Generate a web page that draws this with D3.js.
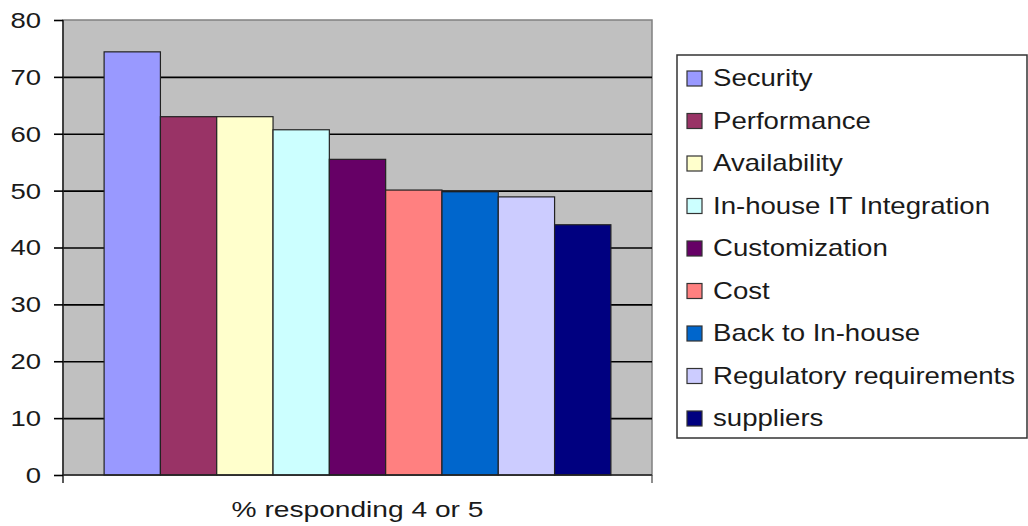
<!DOCTYPE html>
<html>
<head>
<meta charset="utf-8">
<script src="https://cdn.jsdelivr.net/npm/d3@7"></script>
<style>
  body { margin: 0; background: #fff; }
  text { font-family: "Liberation Sans", Arial, sans-serif; fill: #1a1a1a; }
</style>
</head>
<body>
<svg id="chart"></svg>
<script>
// Chart data
const categories = ["Security", "Performance", "Availability", "In-house IT Integration",
    "Customization", "Cost", "Back to In-house", "Regulatory requirements", "suppliers"];
const values = [74.4, 63.0, 63.0, 60.7, 55.5, 50.1, 49.8, 48.9, 44.0];
const colors = ["#9999FF", "#993366", "#FFFFCC", "#CCFFFF", "#660066",
    "#FF8080", "#0066CC", "#CCCCFF", "#000080"];
const yTicks = [0, 10, 20, 30, 40, 50, 60, 70, 80];
const xTitle = "% responding 4 or 5";

// Layout
const config = { width: 1028, height: 526 };
const plot = { left: 63, right: 652, top: 20, bottom: 475 };
const stretch = 1.25; // the source text is a bit wide

function translate(x, y) {
    return 'translate(' + x + ',' + y + ')';
}

const svg = d3.select("#chart")
    .attr("width", config.width)
    .attr("height", config.height);

// Scales
const x = d3.scaleBand()
    .domain(categories)
    .range([plot.left, plot.right])
    .paddingInner(0)
    .paddingOuter(0.73);

const y = d3.scaleLinear()
    .domain([0, 80])
    .range([plot.bottom, plot.top]);

const color = d3.scaleOrdinal().domain(categories).range(colors);

// Plot background
svg.append("rect")
    .attr("x", plot.left)
    .attr("y", plot.top)
    .attr("width", plot.right - plot.left)
    .attr("height", plot.bottom - plot.top)
    .attr("fill", "#C0C0C0")
    .attr("stroke", "#808080")
    .attr("stroke-width", 1.5);

// Gridlines
svg.append("g")
    .attr("transform", translate(plot.left, 0))
    .call(d3.axisLeft(y).tickValues(yTicks.slice(1, -1)).tickSize(-(plot.right - plot.left)).tickFormat(""))
    .call(g => g.select(".domain").remove())
    .call(g => g.selectAll("line").attr("stroke", "#000").attr("stroke-width", 1.6));

// Bars
svg.append("g").selectAll("rect")
    .data(categories)
    .enter()
    .append("rect")
    .attr("x", d => x(d))
    .attr("y", (d, i) => y(values[i]))
    .attr("width", x.bandwidth())
    .attr("height", (d, i) => y(0) - y(values[i]))
    .attr("fill", d => color(d))
    .attr("stroke", "#222")
    .attr("stroke-width", 1.2);

// Y axis with outside ticks
const yAxis = svg.append("g")
    .attr("transform", translate(plot.left, 0))
    .call(d3.axisLeft(y).tickValues(yTicks).tickSize(9).tickFormat(""));
yAxis.select(".domain").attr("stroke", "#222").attr("stroke-width", 1.5)
    .attr("d", "M0," + plot.top + "V" + (plot.bottom + 8));
yAxis.selectAll("line").attr("stroke", "#000").attr("stroke-width", 1.6);

// Y tick labels
svg.append("g").selectAll("text")
    .data(yTicks)
    .enter()
    .append("text")
    .attr("transform", d => translate(41, y(d)) + " scale(" + stretch + ",1)")
    .attr("dy", "0.36em")
    .attr("text-anchor", "end")
    .style("font-size", "22px")
    .text(d => d);

// X axis baseline and end ticks
svg.append("line")
    .attr("x1", plot.left).attr("x2", plot.right)
    .attr("y1", y(0)).attr("y2", y(0))
    .attr("stroke", "#222").attr("stroke-width", 1.5);
svg.append("line")
    .attr("x1", plot.right).attr("x2", plot.right)
    .attr("y1", y(0)).attr("y2", y(0) + 8)
    .attr("stroke", "#444").attr("stroke-width", 1.2);

// X title
svg.append("text")
    .attr("transform", translate((plot.left + plot.right) / 2, 517) + " scale(1.28,1)")
    .attr("text-anchor", "middle")
    .style("font-size", "22px")
    .text(xTitle);

// Legend
const legend = { x: 677, y: 55, width: 350, height: 383, rowStart: 78, rowStep: 42.5 };

svg.append("rect")
    .attr("x", legend.x)
    .attr("y", legend.y)
    .attr("width", legend.width)
    .attr("height", legend.height)
    .attr("fill", "#fff")
    .attr("stroke", "#333")
    .attr("stroke-width", 1.5);

const items = svg.append("g").selectAll("g")
    .data(categories)
    .enter()
    .append("g")
    .attr("transform", (d, i) => translate(legend.x, legend.rowStart + i * legend.rowStep));

items.append("rect")
    .attr("x", 10)
    .attr("y", -7)
    .attr("width", 15)
    .attr("height", 15)
    .attr("fill", d => color(d))
    .attr("stroke", "#333")
    .attr("stroke-width", 1.2);

items.append("text")
    .attr("transform", translate(36, 0) + " scale(" + 1.2 + ",1)")
    .attr("dy", "0.36em")
    .style("font-size", "23px")
    .text(d => d);
</script>
</body>
</html>
